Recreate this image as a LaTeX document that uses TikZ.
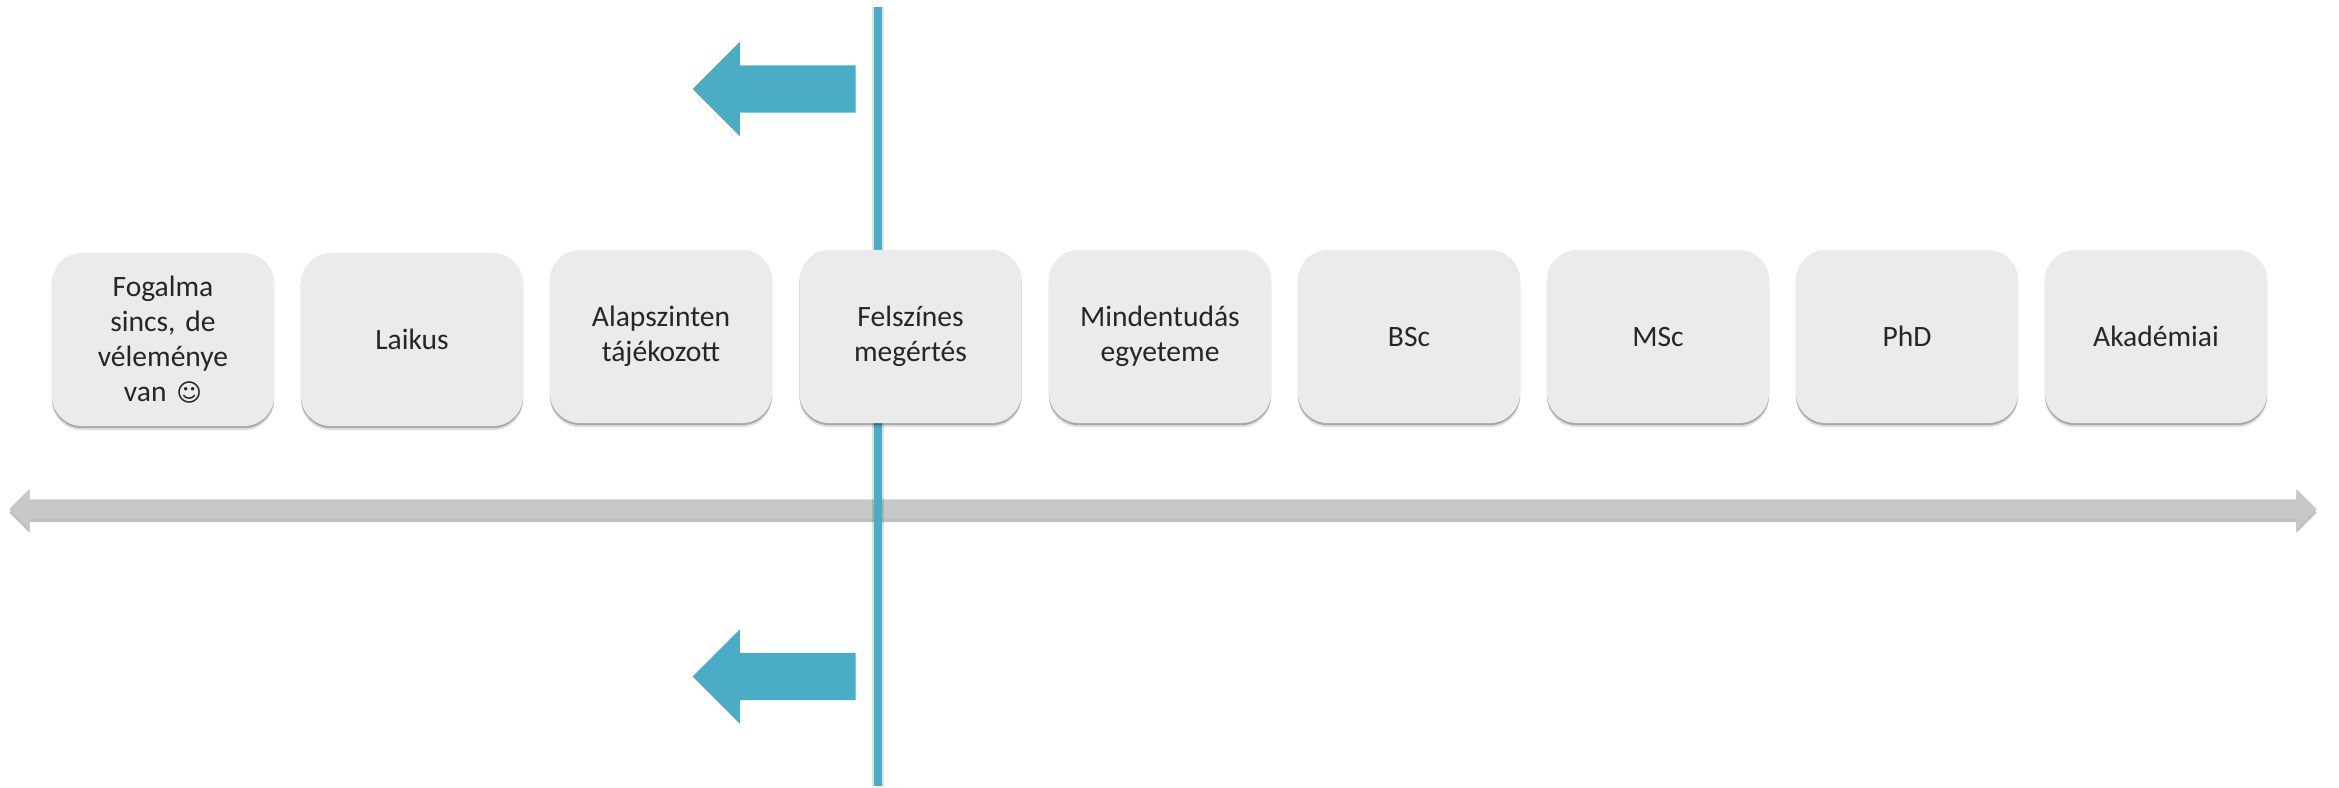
\documentclass[tikz,border=0pt]{standalone}
\usepackage{fontspec}
\setmainfont{Carlito}
\newfontfamily\symfont{DejaVu Sans}
\usepackage{tikz}
\usetikzlibrary{shapes.arrows,shadows}

\definecolor{kek}{HTML}{4BACC6}
\definecolor{doboz}{HTML}{EBEBEB}
\definecolor{tengely}{HTML}{C8C8C8}

\begin{document}
\frenchspacing
\begin{tikzpicture}
		[x=0.01cm,y=-0.01cm,
		 n/.style= {minimum width=2.22cm,minimum height=1.73cm,inner sep=0pt,rounded corners=0.3cm,fill=doboz,text=black!85,
			align=center,font=\fontsize{8.4}{10}\selectfont,text width=2.0cm,
			drop shadow={shadow xshift=0pt,shadow yshift=-1.2pt,opacity=.12,fill=black},
			drop shadow={shadow xshift=0pt,shadow yshift=-0.6pt,opacity=.25,fill=black}},
		 nyil/.style= {single arrow,single arrow head extend=0.235cm,shape border rotate=180,minimum height=1.63cm,
			inner sep=0.23cm,fill=kek}]

		\useasboundingbox (0,0) rectangle (2339,787);

		\node[double arrow,double arrow head extend=0.105cm,minimum height=23.06cm,inner sep=0.09cm,fill=tengely,
			drop shadow={shadow xshift=0pt,shadow yshift=-1pt,opacity=.25,fill=black}] (tengely) at (1163,509) {};

		\coordinate (felso) at (878,7);
		\coordinate (also) at (878,786);
		\draw[line width=0.08cm,kek,preaction={draw=black,opacity=.12,line width=0.12cm}] (felso) -- (also);

		\node[n] (n0) at (163,339.5) {Fogalma\\sincs, de\\véleménye\\van {\symfont\fontsize{7}{10}\selectfont ☺}};
		\node[n] (n1) at (412,339.5) {Laikus};
		\node[n] (n2) at (661,336.5) {Alapszinten\\tájékozott};
		\node[n] (n3) at (910.5,336.5) {Felszínes\\megértés};
		\node[n] (n4) at (1160,336.5) {Mindentudás\\egyeteme};
		\node[n] (n5) at (1409,336.5) {BSc};
		\node[n] (n6) at (1658,336.5) {MSc};
		\node[n] (n7) at (1907,336.5) {PhD};
		\node[n] (n8) at (2156,336.5) {Akadémiai};

		\node[nyil] (fent) at (786,89) {};
		\node[nyil] (lent) at (786,676.5) {};

	\end{tikzpicture}
\end{document}
